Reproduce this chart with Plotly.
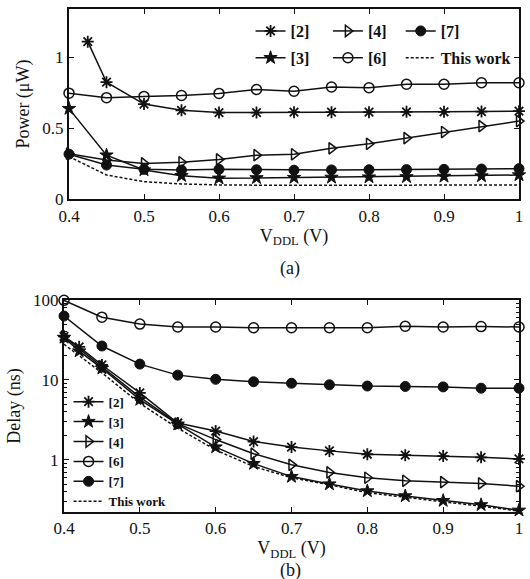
import plotly.graph_objects as go

# ---------------- data ----------------
x_std = [0.4, 0.45, 0.5, 0.55, 0.6, 0.65, 0.7, 0.75, 0.8, 0.85, 0.9, 0.95, 1.0]
x_p2 = [0.425, 0.45, 0.5, 0.55, 0.6, 0.65, 0.7, 0.75, 0.8, 0.85, 0.9, 0.95, 1.0]
x_d23 = [0.4, 0.42, 0.45, 0.5, 0.55, 0.6, 0.65, 0.7, 0.75, 0.8, 0.85, 0.9, 0.95, 1.0]

# (a) Power (uW)
pow_2 = [1.11, 0.824, 0.67, 0.626, 0.61, 0.61, 0.613, 0.613, 0.613, 0.615, 0.615, 0.617, 0.62]
pow_3 = [0.638, 0.31, 0.205, 0.165, 0.147, 0.15, 0.152, 0.153, 0.155, 0.157, 0.16, 0.163, 0.17]
pow_4 = [0.32, 0.275, 0.252, 0.26, 0.28, 0.31, 0.316, 0.358, 0.39, 0.43, 0.473, 0.515, 0.55]
pow_6 = [0.747, 0.715, 0.724, 0.73, 0.745, 0.773, 0.76, 0.79, 0.785, 0.81, 0.81, 0.82, 0.82]
pow_7 = [0.317, 0.24, 0.21, 0.205, 0.21, 0.207, 0.204, 0.206, 0.207, 0.208, 0.21, 0.212, 0.215]
pow_tw = [0.30, 0.17, 0.123, 0.107, 0.10, 0.097, 0.097, 0.097, 0.099, 0.10, 0.10, 0.10, 0.10]

# (b) Delay (ns)
del_2 = [35, 26, 15.4, 6.9, 2.9, 2.3, 1.7, 1.45, 1.3, 1.18, 1.15, 1.12, 1.08, 1.03]
del_3 = [34, 23, 14, 5.7, 2.8, 1.45, 0.9, 0.62, 0.5, 0.41, 0.355, 0.31, 0.275, 0.235]
del_4 = [35, 14.8, 6.1, 2.85, 1.8, 1.2, 0.87, 0.7, 0.6, 0.55, 0.53, 0.51, 0.47]
del_6 = [99, 61, 50, 46, 46, 45, 45, 45, 45, 47, 46, 46.5, 46]
del_7 = [63, 26.6, 15.8, 11.5, 10.2, 9.5, 9.1, 8.7, 8.4, 8.3, 8.2, 7.9, 7.9]
del_tw = [28, 12.3, 5.1, 2.5, 1.33, 0.83, 0.6, 0.49, 0.39, 0.34, 0.3, 0.265, 0.23]

x_ticks = [0.4, 0.5, 0.6, 0.7, 0.8, 0.9, 1.0]
x_ticktext = ["0.4", "0.5", "0.6", "0.7", "0.8", "0.9", "1"]
pow_ticks = [0, 0.5, 1]
pow_ticktext = ["0", "0.5", "1"]
del_ticks = [1, 10, 100]
del_ticktext = ["1", "10", "100"]

FONT = "Liberation Serif"
BLACK = "#111111"

fig = go.Figure()

sym = {
    "[2]": dict(symbol="asterisk-open", size=10, color=BLACK, line=dict(width=1.8, color=BLACK)),
    "[3]": dict(symbol="star", size=10, color=BLACK, line=dict(width=1, color=BLACK)),
    "[4]": dict(symbol="triangle-right-open", size=10, color=BLACK, line=dict(width=1.5, color=BLACK)),
    "[6]": dict(symbol="circle-open", size=10, color=BLACK, line=dict(width=1.5, color=BLACK)),
    "[7]": dict(symbol="circle", size=10, color=BLACK, line=dict(width=1, color=BLACK)),
}
# top legend: three columns of two rows
top_legend = {"[2]": "legend", "[3]": "legend", "[4]": "legend3", "[6]": "legend3",
              "[7]": "legend4", "This work": "legend4"}

top_series = [("[2]", x_p2, pow_2), ("[3]", x_std, pow_3), ("[4]", x_std, pow_4),
              ("[6]", x_std, pow_6), ("[7]", x_std, pow_7)]
for name, xs, ys in top_series:
    fig.add_trace(go.Scatter(x=xs, y=ys, name=name, mode="lines+markers",
                             line=dict(color=BLACK, width=1.5), marker=sym[name],
                             xaxis="x", yaxis="y", legend=top_legend[name],
                             legendgroup="a" + name, cliponaxis=False))
fig.add_trace(go.Scatter(x=x_std, y=pow_tw, name="This work", mode="lines",
                         line=dict(color=BLACK, width=1.5, dash="3px,2px"),
                         xaxis="x", yaxis="y", legend="legend4", legendgroup="aTW"))

bot_series = [("[2]", x_d23, del_2), ("[3]", x_d23, del_3), ("[4]", x_std, del_4),
              ("[6]", x_std, del_6), ("[7]", x_std, del_7)]
for name, xs, ys in bot_series:
    fig.add_trace(go.Scatter(x=xs, y=ys, name=name, mode="lines+markers",
                             line=dict(color=BLACK, width=1.5), marker=sym[name],
                             xaxis="x2", yaxis="y2", legend="legend2", cliponaxis=False))
fig.add_trace(go.Scatter(x=x_std, y=del_tw, name="This work", mode="lines",
                         line=dict(color=BLACK, width=1.5, dash="3px,2px"),
                         xaxis="x2", yaxis="y2", legend="legend2"))

tickfont = dict(family=FONT, size=17, color=BLACK)
common_axis = dict(showline=True, linewidth=2, linecolor=BLACK, mirror="ticks",
                   ticks="inside", ticklen=5, tickwidth=1.2, tickcolor=BLACK,
                   showgrid=False, zeroline=False, tickfont=tickfont, automargin=False)
title_font = dict(family=FONT, size=18, color=BLACK)

legend_common = dict(xanchor="left", yanchor="top", xref="paper", yref="paper",
                     bgcolor="rgba(0,0,0,0)", itemwidth=30, orientation="v")
top_legend_font = dict(family=FONT, size=16, weight="bold", color=BLACK)

fig.update_layout(
    width=530, height=579,
    paper_bgcolor="white", plot_bgcolor="white",
    margin=dict(l=64, r=11, t=9, b=67),
    font=dict(family=FONT, color=BLACK),
    xaxis=dict(domain=[0.011, 1.0], anchor="y", range=[0.4, 1.0],
               tickvals=x_ticks, ticktext=x_ticktext,
               title=dict(text="V<sub>DDL</sub> (V)", font=title_font, standoff=2),
               **common_axis),
    yaxis=dict(domain=[0.622, 1.0], anchor="x", range=[0, 1.34],
               tickvals=pow_ticks, ticktext=pow_ticktext,
               title=dict(text="Power (\u03bcW)", font=title_font, standoff=8),
               **common_axis),
    xaxis2=dict(domain=[0.0, 1.0], anchor="y2", range=[0.4, 1.0],
                tickvals=x_ticks, ticktext=x_ticktext,
                title=dict(text="V<sub>DDL</sub> (V)", font=title_font, standoff=2),
                **common_axis),
    yaxis2=dict(domain=[0.0, 0.4215], anchor="x2", type="log",
                range=[-0.65, 2.0], tickvals=del_ticks, ticktext=del_ticktext,
                minor=dict(ticks="inside", ticklen=3, tickcolor=BLACK, dtick="D1", showgrid=False),
                title=dict(text="Delay (ns)", font=title_font, standoff=8),
                **common_axis),
    legend=dict(x=0.41, y=0.99, font=top_legend_font, tracegroupgap=3, **legend_common),
    legend3=dict(x=0.58, y=0.99, font=top_legend_font, tracegroupgap=3, **legend_common),
    legend4=dict(x=0.74, y=0.99, font=top_legend_font, tracegroupgap=3, **legend_common),
    legend2=dict(x=0.01, y=0.249, tracegroupgap=0,
                 font=dict(family=FONT, size=13, weight="bold", color=BLACK), **legend_common),
)

# panel labels (pixel y of the reference converted to paper coordinates; plot area top 9, bottom 512)
for txt, py in [("(a)", 269), ("(b)", 570)]:
    fig.add_annotation(text=txt, x=(290 - 64) / 455.0, y=(512 - py) / 503.0,
                       xref="paper", yref="paper", showarrow=False, yanchor="middle",
                       font=dict(family=FONT, size=18, color=BLACK))

fig.write_html("out.html", config={"displayModeBar": False},
               post_script="document.body.style.margin='0px';document.body.style.overflow='hidden';")
